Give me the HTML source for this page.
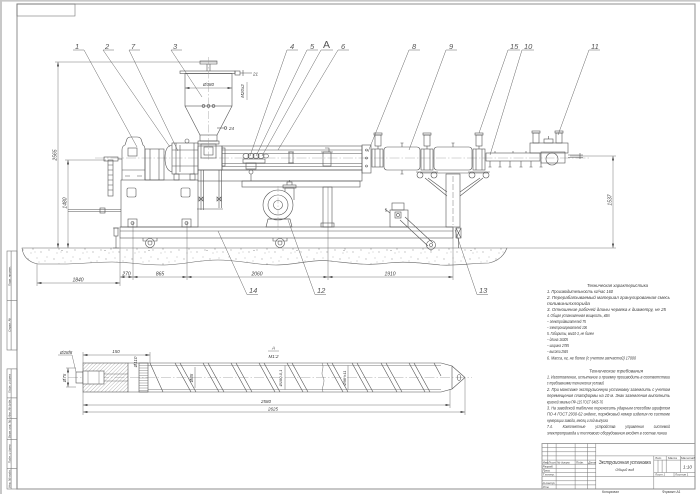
<!DOCTYPE html>
<html><head><meta charset="utf-8"><style>
html,body{margin:0;padding:0;background:#fff;width:700px;height:494px;overflow:hidden}
svg{display:block}
text{font-family:"Liberation Sans","DejaVu Sans",sans-serif;font-style:italic;fill:#3a3a3a;stroke:none}
.lb{fill:#555}
</style></head><body>
<svg width="700" height="494" viewBox="0 0 700 494" xmlns="http://www.w3.org/2000/svg">
<defs>
<marker id="ar" markerWidth="4.5" markerHeight="2.4" refX="4.5" refY="1.2" orient="auto-start-reverse" markerUnits="userSpaceOnUse"><path d="M0,0L4.5,1.2L0,2.4z" fill="#555"/></marker>
<pattern id="hatch" width="2.6" height="2.6" patternUnits="userSpaceOnUse" patternTransform="rotate(45)"><line x1="0" y1="0" x2="0" y2="2.6" stroke="#777" stroke-width="0.5"/></pattern>
<pattern id="conc" width="26" height="15" patternUnits="userSpaceOnUse"><g fill="#666">
<circle cx="2" cy="4" r="0.45"/><circle cx="7" cy="9" r="0.45"/><circle cx="11" cy="3" r="0.4"/><circle cx="15" cy="12" r="0.45"/><circle cx="19" cy="6" r="0.4"/><circle cx="23" cy="10" r="0.45"/><circle cx="5" cy="13" r="0.4"/><circle cx="13" cy="7" r="0.35"/><circle cx="21" cy="2" r="0.4"/><circle cx="9" cy="12" r="0.35"/></g></pattern>
</defs>
<rect x="0" y="0" width="700" height="494" fill="#fff"/>
<line x1="1" y1="0" x2="1" y2="494" stroke="#c8c8c8" stroke-width="2"/>
<line x1="0" y1="0.8" x2="700" y2="0.8" stroke="#c8c8c8" stroke-width="1.6"/>

<!-- frame -->
<g fill="none" stroke="#999" stroke-width="1.1">
<rect x="17" y="4" width="678" height="485"/>
</g>
<g fill="none" stroke="#777" stroke-width="0.6">
<rect x="17" y="4" width="58" height="12"/>
<rect x="7" y="251" width="10" height="99"/>
<line x1="7" y1="300.5" x2="17" y2="300.5"/>
<line x1="11.1" y1="251" x2="11.1" y2="350"/>
<rect x="7" y="368.9" width="10" height="120.1"/>
<line x1="7" y1="397.9" x2="17" y2="397.9"/>
<line x1="7" y1="418.6" x2="17" y2="418.6"/>
<line x1="7" y1="439.3" x2="17" y2="439.3"/>
<line x1="7" y1="468.3" x2="17" y2="468.3"/>
<line x1="11.1" y1="368.9" x2="11.1" y2="489"/>
</g>
<g font-size="3">
<text transform="translate(10.3,276) rotate(-90)" text-anchor="middle">Перв. примен.</text>
<text transform="translate(10.3,325) rotate(-90)" text-anchor="middle">Справ. №</text>
<text transform="translate(10.3,383.5) rotate(-90)" text-anchor="middle">Подп. и дата</text>
<text transform="translate(10.3,408.3) rotate(-90)" text-anchor="middle">Инв. № дубл.</text>
<text transform="translate(10.3,429) rotate(-90)" text-anchor="middle">Взам. инв. №</text>
<text transform="translate(10.3,453.8) rotate(-90)" text-anchor="middle">Подп. и дата</text>
<text transform="translate(10.3,478.6) rotate(-90)" text-anchor="middle">Инв. № подл.</text>
</g>

<!-- ground slab -->
<path d="M22,248 L507,248 C504,256 498,261 489,263 C472,263 458,266 440,265 C420,263 405,261 388,263 C368,266 350,263 330,261 C312,259 296,265 276,265 C256,265 238,260 218,260 C198,260 182,265 162,265 C142,265 128,262 112,262 C94,262 80,264 62,264 L38,264 C28,262 23,256 22,248 Z" fill="url(#conc)" stroke="#666" stroke-width="0.6"/>
<path d="M61,251l1,-1l1,1 M104,251l1,-1l1,1 M148,251l1,-1l1,1 M206,251l1,-1l1,1 M253,251l1,-1l1,1 M296,251l1,-1l1,1 M343,251l1,-1l1,1 M390,251l1,-1l1,1 M430,251l1,-1l1,1 M470,251l1,-1l1,1" stroke="#777" stroke-width="0.4" fill="none"/>

<line x1="95" y1="158" x2="590" y2="158" stroke="#999" stroke-width="0.4" stroke-dasharray="10 2 1.5 2"/>

<!-- dimensions -->
<g fill="none" stroke="#666" stroke-width="0.45">
<line x1="55" y1="62" x2="217" y2="62"/>
<line x1="65" y1="160" x2="106" y2="160"/>
<line x1="58" y1="62" x2="58" y2="248" marker-start="url(#ar)" marker-end="url(#ar)"/>
<line x1="68" y1="160" x2="68" y2="248" marker-start="url(#ar)" marker-end="url(#ar)"/>
<line x1="37" y1="264" x2="37" y2="286"/>
<line x1="120" y1="238" x2="120" y2="286"/>
<line x1="37" y1="283" x2="120" y2="283" marker-start="url(#ar)" marker-end="url(#ar)"/>
<line x1="133" y1="222" x2="133" y2="280"/>
<line x1="187" y1="222" x2="187" y2="280"/>
<line x1="328" y1="187" x2="328" y2="280"/>
<line x1="453" y1="228" x2="453" y2="280"/>
<line x1="120" y1="277" x2="133" y2="277" marker-start="url(#ar)" marker-end="url(#ar)"/>
<line x1="133" y1="277" x2="187" y2="277" marker-start="url(#ar)" marker-end="url(#ar)"/>
<line x1="187" y1="277" x2="328" y2="277" marker-start="url(#ar)" marker-end="url(#ar)"/>
<line x1="328" y1="277" x2="453" y2="277" marker-start="url(#ar)" marker-end="url(#ar)"/>
<line x1="570" y1="156" x2="616" y2="156"/>
<line x1="507" y1="248" x2="616" y2="248"/>
<line x1="613" y1="156" x2="613" y2="248" marker-start="url(#ar)" marker-end="url(#ar)"/>
</g>
<g font-size="5">
<text transform="translate(56.5,155) rotate(-90)" text-anchor="middle">2565</text>
<text transform="translate(66.5,203) rotate(-90)" text-anchor="middle">1480</text>
<text transform="translate(611.5,200) rotate(-90)" text-anchor="middle">1537</text>
<text x="78" y="281.5" text-anchor="middle">1840</text>
<text x="126.5" y="275.5" text-anchor="middle">270</text>
<text x="160" y="275.5" text-anchor="middle">865</text>
<text x="257" y="275.5" text-anchor="middle">2060</text>
<text x="390" y="275.5" text-anchor="middle">1910</text>
</g>

<!-- machine -->
<g fill="none" stroke="#555" stroke-width="0.6">
<rect x="108" y="160" width="5" height="36"/>
<path d="M108,165h5M108,170h5M108,175h5M108,180h5M108,185h5M108,190h5"/>
<rect x="104" y="157" width="14" height="4"/>
<line x1="118" y1="159" x2="122" y2="159"/>
<line x1="68" y1="209.5" x2="121" y2="209.5"/>
<line x1="68" y1="211.5" x2="121" y2="211.5"/>
<rect x="100" y="208" width="5" height="5"/>
<rect x="114" y="228" width="4" height="8"/>
<path d="M113,228h6M116,236v12M113,248h6"/>
<rect x="121" y="180" width="77" height="47"/>
<rect x="127" y="188" width="9" height="9" rx="1.5"/>
<rect x="181" y="188" width="9" height="9" rx="1.5"/>
<rect x="128" y="219" width="9" height="8"/>
<rect x="182" y="219" width="9" height="8"/>
<circle cx="132.5" cy="223" r="1.5"/>
<circle cx="186.5" cy="223" r="1.5"/>
<path d="M122,180V150Q122,146 125,145L127,139Q128,137 131,137H137Q140,137 141,139L143,145Q145,146 145,150V180"/>
<rect x="128" y="148" width="9" height="8"/>
<path d="M122,170h23M125,176h5M137,176h5"/>
<rect x="145" y="149" width="19" height="31"/>
<path d="M150,149v31M159,149v31"/>
<path d="M172,145Q165,146 165,158Q165,170 172,172"/>
<rect x="172" y="143" width="26" height="31"/>
<path d="M176,143v31M180,145v27M194,143v31M172,150h26M172,166h26"/>
<rect x="174" y="174" width="5" height="6"/>
<rect x="190" y="174" width="5" height="6"/>
<circle cx="187" cy="141" r="2"/>
<rect x="200" y="61" width="17" height="3"/>
<path d="M207,64v7M210,64v7"/>
<rect x="180" y="71" width="55" height="2.5"/>
<rect x="235" y="71" width="5" height="4"/>
<rect x="185" y="73.5" width="47" height="32.5"/>
<path d="M185,106L200,135M232,106L217,135"/>
<rect x="200" y="135" width="17" height="6"/>
<rect x="198" y="141" width="21" height="3"/>
<rect x="201" y="144" width="15" height="14"/>
<rect x="204" y="147" width="9" height="8"/>
<circle cx="203.5" cy="106" r="1.4"/><circle cx="208.5" cy="106" r="1.4"/><circle cx="213.5" cy="106" r="1.4"/>
<path d="M217,128h7" /><circle cx="225.5" cy="128" r="1.3"/>
<path d="M240,73h12M243,70v6"/>
<line x1="247" y1="82" x2="247" y2="100" stroke-width="0.4"/>
<rect x="198" y="146" width="24" height="24"/>
<path d="M201,170v40M203.5,170v40M219,170v38M221.5,170v38M197,209h26"/>
<path d="M199,197l4,4l0,-4l-4,4z M217,197l4,4l0,-4l-4,4z"/>
<rect x="222" y="146" width="140" height="24"/>
<path d="M222,150h140M222,153.5h140M222,163.5h140M222,166.5h140"/>
<rect x="198" y="170" width="164" height="11"/>
<rect x="242" y="181" width="118" height="6"/>
<rect x="222" y="148" width="3" height="18"/>
<rect x="289" y="152" width="4" height="11"/>
<path d="M288,152h6M288,163h6"/>
<rect x="323" y="152" width="8" height="14"/>
<path d="M321,152h12M325,148h4v4"/>
<ellipse cx="246" cy="156" rx="3" ry="2.5"/><ellipse cx="251" cy="156" rx="3" ry="2.5"/><ellipse cx="256" cy="156" rx="3" ry="2.5"/><ellipse cx="261" cy="156" rx="3" ry="2.5"/><ellipse cx="266" cy="156" rx="2.5" ry="2"/>
<rect x="243" y="159" width="22" height="4"/>
<rect x="246" y="163" width="10" height="6"/>
<circle cx="251" cy="172" r="2"/>
<line x1="251" y1="174" x2="251" y2="181"/>
<rect x="323" y="187" width="9" height="40"/>
<rect x="321" y="223" width="13" height="4"/>
<circle cx="278" cy="205" r="15"/>
<circle cx="278" cy="205" r="10"/>
<circle cx="278" cy="205" r="4.5"/>
<path d="M285,191.8V188h9v12"/>
<rect x="283" y="185" width="13" height="3"/>
<path d="M287,185v-3h5v3M289.5,182v-2"/>
<path d="M268,219L266,227h26l-2,-8z"/>
<path d="M268,219h22"/>
<rect x="120" y="227" width="333" height="11"/>
<line x1="120" y1="231" x2="453" y2="231"/>
<path d="M143,238v3h14v-3M273,238v3h14v-3"/>
<circle cx="150" cy="243" r="4.5"/><circle cx="150" cy="243" r="2"/>
<circle cx="280" cy="243" r="4.5"/><circle cx="280" cy="243" r="2"/>
<rect x="390" y="210" width="18" height="17"/>
<rect x="392" y="203" width="12" height="7"/>
<rect x="395" y="212" width="6" height="6"/>
<circle cx="398" cy="215" r="1.6"/>
<path d="M385,209l5,4M386,208v4"/>
<path d="M400,220L428,246M405,217L433,243"/>
<circle cx="431" cy="245" r="4.5"/><circle cx="431" cy="245" r="1.5"/>
<rect x="446" y="174" width="14" height="53"/>
<line x1="453" y1="176" x2="453" y2="225" stroke-dasharray="6 2" stroke-width="0.4"/>
<path d="M420,173h68M425,178L447,196M428,178L447,192M483,178L460,196M480,178L460,192"/>
<rect x="456" y="228" width="5" height="10"/>
<path d="M456,228l5,10M461,228l-5,10M458.5,238v10"/>
<rect x="362" y="145" width="9" height="28"/>
<circle cx="366.5" cy="150" r="1"/><circle cx="366.5" cy="158" r="1"/><circle cx="366.5" cy="166" r="1"/>
<rect x="372" y="149" width="11" height="18"/>
<path d="M375,149v18M380,149v18"/>
<rect x="375" y="135" width="6" height="11"/>
<rect x="374" y="133" width="8" height="2"/>
<path d="M378,146v3"/>
<rect x="384" y="147" width="36" height="23" rx="3"/>
<path d="M402,143v4M400.5,143h3M402,170v4M400.5,174h3"/>
<rect x="421" y="149" width="12" height="21"/>
<path d="M424,149v21M430,149v21"/>
<rect x="424" y="135" width="6" height="11"/>
<rect x="423" y="133" width="8" height="2"/>
<path d="M427,146v3"/>
<circle cx="420" cy="175" r="3"/><circle cx="434" cy="175" r="3"/>
<path d="M416,172h22"/>
<rect x="434" y="147" width="38" height="23" rx="3"/>
<path d="M453,143v4M451.5,143h3"/>
<rect x="473" y="149" width="12" height="21"/>
<path d="M476,149v21M482,149v21"/>
<rect x="476" y="135" width="6" height="11"/>
<rect x="475" y="133" width="8" height="2"/>
<path d="M479,146v3"/>
<circle cx="472" cy="175" r="3"/><circle cx="486" cy="175" r="3"/>
<path d="M468,172h22"/>
<rect x="486" y="153" width="54" height="8"/>
<path d="M490,161v6M488.5,167h3M500,161v6M498.5,167h3M510,161v6M508.5,167h3M521,161v6M519.5,167h3M531,161v6M529.5,167h3M541,161v6M539.5,167h3M495,153v-2M513,153v-2M526,153v-2"/>
<rect x="530" y="143" width="38" height="10"/>
<rect x="533" y="133" width="6" height="10"/>
<rect x="532" y="131" width="8" height="2"/>
<rect x="556" y="133" width="6" height="10"/>
<rect x="555" y="131" width="8" height="2"/>
<rect x="544" y="139" width="9" height="4"/>
<path d="M548.5,136v3"/>
<rect x="541" y="152" width="24" height="11"/>
<circle cx="552" cy="159" r="6"/>
<path d="M568,155h15M568,157.5h15M580,153v6"/>
</g>

<!-- labels -->
<g fill="none" stroke="#555" stroke-width="0.45">
<path d="M73,50h11L137,147"/>
<path d="M103,50h11M103,50L170,147"/>
<path d="M129,50h11M129,50L178,151"/>
<path d="M171,50h11M171,50L202,97"/>
<path d="M287,50h11M287,50L250,156"/>
<path d="M307,50h11M307,50L256,156"/>
<path d="M321,50h12M321,50L262,156"/>
<path d="M338,50h11M338,50L278,150"/>
<path d="M409,50h11M409,50L368,152"/>
<path d="M446,50h11M446,50L409,150"/>
<path d="M508,50h12M508,50L479,133"/>
<path d="M522,50h12M522,50L490,155"/>
<path d="M589,50h11M589,50L558,135"/>
<path d="M247,294.5h11M247,294.5L218,231"/>
<path d="M315,294.5h11M315,294.5L288,220"/>
<path d="M477,294.5h11M477,294.5L455,230"/>
</g>
<g font-size="7.5" class="lb">
<text class="lb" x="75" y="49">1</text>
<text class="lb" x="105" y="49">2</text>
<text class="lb" x="131" y="49">7</text>
<text class="lb" x="173" y="49">3</text>
<text class="lb" x="290" y="49">4</text>
<text class="lb" x="310" y="49">5</text>
<text class="lb" x="341" y="49">6</text>
<text class="lb" x="412" y="49">8</text>
<text class="lb" x="449" y="49">9</text>
<text class="lb" x="510" y="49">15</text>
<text class="lb" x="524" y="49">10</text>
<text class="lb" x="591" y="49">11</text>
<text class="lb" x="249" y="293">14</text>
<text class="lb" x="317" y="293">12</text>
<text class="lb" x="479" y="293">13</text>
</g>
<text class="lb" x="323" y="48" font-size="10.5" style="font-style:normal">A</text>
<g font-size="4.5">
<text x="208.5" y="86" text-anchor="middle">Ø380</text>
<text transform="translate(244,91) rotate(-90)" text-anchor="middle">M20x2</text>
<text x="253" y="75.5">21</text>
<text x="229" y="130">24</text>
</g>
<g fill="none" stroke="#666" stroke-width="0.45">
<line x1="185" y1="88" x2="232" y2="88" marker-start="url(#ar)" marker-end="url(#ar)"/>
<line x1="208.5" y1="57" x2="208.5" y2="160" stroke="#999" stroke-width="0.4" stroke-dasharray="8 2 1.5 2"/>
<line x1="278" y1="186" x2="278" y2="230" stroke="#999" stroke-width="0.4" stroke-dasharray="6 2 1.5 2"/>
</g>

<!-- screw drawing -->
<line x1="68" y1="377.5" x2="472" y2="377.5" stroke="#999" stroke-width="0.4" stroke-dasharray="10 2 1.5 2"/>
<g fill="none" stroke="#555" stroke-width="0.6">
<rect x="76" y="372" width="7" height="11"/>
<rect x="83" y="363" width="45" height="29" fill="url(#hatch)"/>
<rect x="83" y="371" width="21" height="13" fill="#fff"/>
<path d="M104,374h24M104,381h24" stroke-width="0.4"/>
<path d="M88,371v13M99,371v13" stroke-width="0.4"/>
<path d="M128,363h313M128,392h313"/>
<path d="M148,365.5h293M148,389.5h293" stroke-width="0.4"/>
<rect x="139" y="363" width="9" height="29"/>
<path d="M139,365.5h9M139,368h9M139,370.5h9M139,373h9M139,375.5h9M139,378h9M139,380.5h9M139,383h9M139,385.5h9M139,388h9M139,390.5h9" stroke-width="0.35"/>
<path d="M150,363L163,392
M175,363L191,392M180,363L196,392
M203,363L219,392M208,363L224,392
M231,363L247,392M236,363L252,392
M259,363L275,392M264,363L280,392
M287,363L303,392M292,363L308,392
M352,363L368,392M357,363L373,392
M381,363L397,392M386,363L402,392
M409,363L425,392M414,363L430,392
M434,363L441,376"/>
<path d="M322,363c3,5 -2,9 1,14c3,5 -2,10 0,15" stroke-width="0.45"/>
<path d="M327,363L343,392M332,363L348,392" />
<path d="M195,367v21M285,365.5v24M348,365.5v24" stroke-width="0.45"/>
<path d="M441,363L452,366V389L441,392M452,366L465,377.5L452,389"/>
<ellipse cx="459" cy="377.5" rx="1.8" ry="3"/>
</g>
<g fill="none" stroke="#666" stroke-width="0.45">
<path d="M83,352v11M150,352v11M83,392v23M450,389v19M465,378v37"/>
<line x1="83" y1="355" x2="150" y2="355" marker-start="url(#ar)" marker-end="url(#ar)"/>
<line x1="83" y1="405" x2="450" y2="405" marker-start="url(#ar)" marker-end="url(#ar)"/>
<line x1="83" y1="412" x2="465" y2="412" marker-start="url(#ar)" marker-end="url(#ar)"/>
<line x1="68" y1="368" x2="68" y2="387" marker-start="url(#ar)" marker-end="url(#ar)"/>
<path d="M66,368h10M66,387h10M58,355h14L76,372"/>
<path d="M268,351h11"/>
</g>
<g font-size="4.5">
<text x="116" y="353" text-anchor="middle">150</text>
<text x="60" y="354">Ø28f8</text>
<text transform="translate(66,378) rotate(-90)" text-anchor="middle">Ø75</text>
<text transform="translate(137,362) rotate(-90)" text-anchor="middle">Ø110</text>
<text transform="translate(193,378) rotate(-90)" text-anchor="middle">Ø85</text>
<text transform="translate(282,378) rotate(-90)" text-anchor="middle" font-size="4">Ø180-0,1</text>
<text transform="translate(346,378) rotate(-90)" text-anchor="middle" font-size="4">Ø98 h11</text>
<text x="273.5" y="349.5" text-anchor="middle">A</text>
<text x="273.5" y="358" text-anchor="middle">M1:2</text>
<text x="266" y="403" text-anchor="middle">2580</text>
<text x="273" y="410.5" text-anchor="middle">2625</text>
</g>

<!-- technical text -->
<g font-size="4.6">
<text x="587" y="287" textLength="61" lengthAdjust="spacingAndGlyphs">Техническая характеристика</text>
<text x="547" y="293" textLength="66" lengthAdjust="spacingAndGlyphs">1. Производительность кг/час 160</text>
<text x="547" y="299" textLength="123" lengthAdjust="spacingAndGlyphs">2. Перерабатываемый материал гранулированная смесь</text>
<text x="547" y="305" textLength="43" lengthAdjust="spacingAndGlyphs">поливинилхлорида</text>
<text x="547" y="311" textLength="119" lengthAdjust="spacingAndGlyphs">3. Отношение рабочей длины червяка к диаметру, не 25</text>
<text x="547" y="317" textLength="63" lengthAdjust="spacingAndGlyphs">4. Общая установленная мощность, кВт</text>
<text x="547" y="323" textLength="39" lengthAdjust="spacingAndGlyphs">– электродвигателей 75</text>
<text x="547" y="329" textLength="40" lengthAdjust="spacingAndGlyphs">– электронагревателей 106</text>
<text x="547" y="335" textLength="47" lengthAdjust="spacingAndGlyphs">5. Габариты, мм10-3, не более</text>
<text x="547" y="341" textLength="21" lengthAdjust="spacingAndGlyphs">– длина 16305</text>
<text x="547" y="347" textLength="22" lengthAdjust="spacingAndGlyphs">– ширина 2785</text>
<text x="547" y="353" textLength="21" lengthAdjust="spacingAndGlyphs">– высота 2565</text>
<text x="547" y="359.5" textLength="89" lengthAdjust="spacingAndGlyphs">6. Масса, кг, не более (с учетом запчастей) 17000</text>
<text x="589" y="372.5" textLength="54" lengthAdjust="spacingAndGlyphs">Технические требования</text>
<text x="547" y="378.5" textLength="123" lengthAdjust="spacingAndGlyphs">1. Изготовление, испытание и приемку производить в соответствии</text>
<text x="547" y="384.7" textLength="57" lengthAdjust="spacingAndGlyphs">с требованиями технических условий</text>
<text x="547" y="390.9" textLength="123" lengthAdjust="spacingAndGlyphs">2. При монтаже экструзионную установку заземлить с учетом</text>
<text x="547" y="397.1" textLength="123" lengthAdjust="spacingAndGlyphs">перемещения платформы на 10 м. Знак заземления выполнить</text>
<text x="547" y="403.3" textLength="56" lengthAdjust="spacingAndGlyphs">красной эмалью ПФ-115 ГОСТ 6465-76</text>
<text x="547" y="409.5" textLength="123" lengthAdjust="spacingAndGlyphs">3. На заводской табличке переносить ударным способом шрифтом</text>
<text x="547" y="415.7" textLength="123" lengthAdjust="spacingAndGlyphs">ПО-4 ГОСТ 2930-62 индекс, порядковый номер изделия по системе</text>
<text x="547" y="421.9" textLength="61" lengthAdjust="spacingAndGlyphs">нумерации завода, месяц и год выпуска</text>
<text x="547" y="428.1" textLength="123" lengthAdjust="spacingAndGlyphs" word-spacing="12">7.4. Комплектные устройства управления системой</text>
<text x="547" y="434.3" textLength="120" lengthAdjust="spacingAndGlyphs">электропривода и теплового оборудования входят в состав линии</text>
</g>

<!-- title block -->
<g fill="none" stroke="#777" stroke-width="0.5">
<rect x="542" y="443.5" width="153" height="45.5" stroke="#999" stroke-width="0.9"/>
<path d="M542,447.6h53.8M542,451.8h53.8M542,455.9h153M542,460.1h53.8M542,464.2h53.8M542,468.3h53.8M542,472.5h53.8M542,476.6h53.8M542,480.8h53.8M542,484.9h53.8"/>
<path d="M547.8,443.5v20.7M556.1,443.5v45.5M575.1,443.5v45.5M587.5,443.5v45.5M595.8,443.5v45.5"/>
<path d="M653.8,455.9v33.1M653.8,460.1h41.2M653.8,472.5h41.2M653.8,476.6h41.2M595.8,476.6h58"/>
<path d="M658,460.1v12.4M662.1,460.1v12.4M666.2,455.9v16.6M680.3,455.9v16.6M674,472.5v4.1"/>
</g>
<g font-size="3">
<text x="542.6" y="463.3">Изм.</text>
<text x="548.3" y="463.3">Лист</text>
<text x="557" y="463.3">№ докум.</text>
<text x="576" y="463.3">Подп.</text>
<text x="588.2" y="463.3">Дата</text>
<text x="542.6" y="467.4">Разраб.</text>
<text x="542.6" y="471.6">Пров.</text>
<text x="542.6" y="475.7">Т.контр.</text>
<text x="542.6" y="484">Н.контр.</text>
<text x="542.6" y="488.1">Утв.</text>
<text x="655" y="459.2">Лит.</text>
<text x="668" y="459.2">Масса</text>
<text x="681" y="459.2">Масштаб</text>
<text x="655" y="475.7">Лист 1</text>
<text x="675" y="475.7">Листов 1</text>
</g>
<text x="624.8" y="464" font-size="5.2" text-anchor="middle" textLength="52" lengthAdjust="spacingAndGlyphs">Экструзионная установка</text>
<text x="624.8" y="471" font-size="3.6" text-anchor="middle">Общий вид</text>
<text x="687.5" y="468.5" font-size="4.6" text-anchor="middle">1:10</text>
<text x="602" y="492.8" font-size="3.4">Копировал</text>
<text x="662" y="492.8" font-size="3.4">Формат  A1</text>
</svg>
</body></html>
